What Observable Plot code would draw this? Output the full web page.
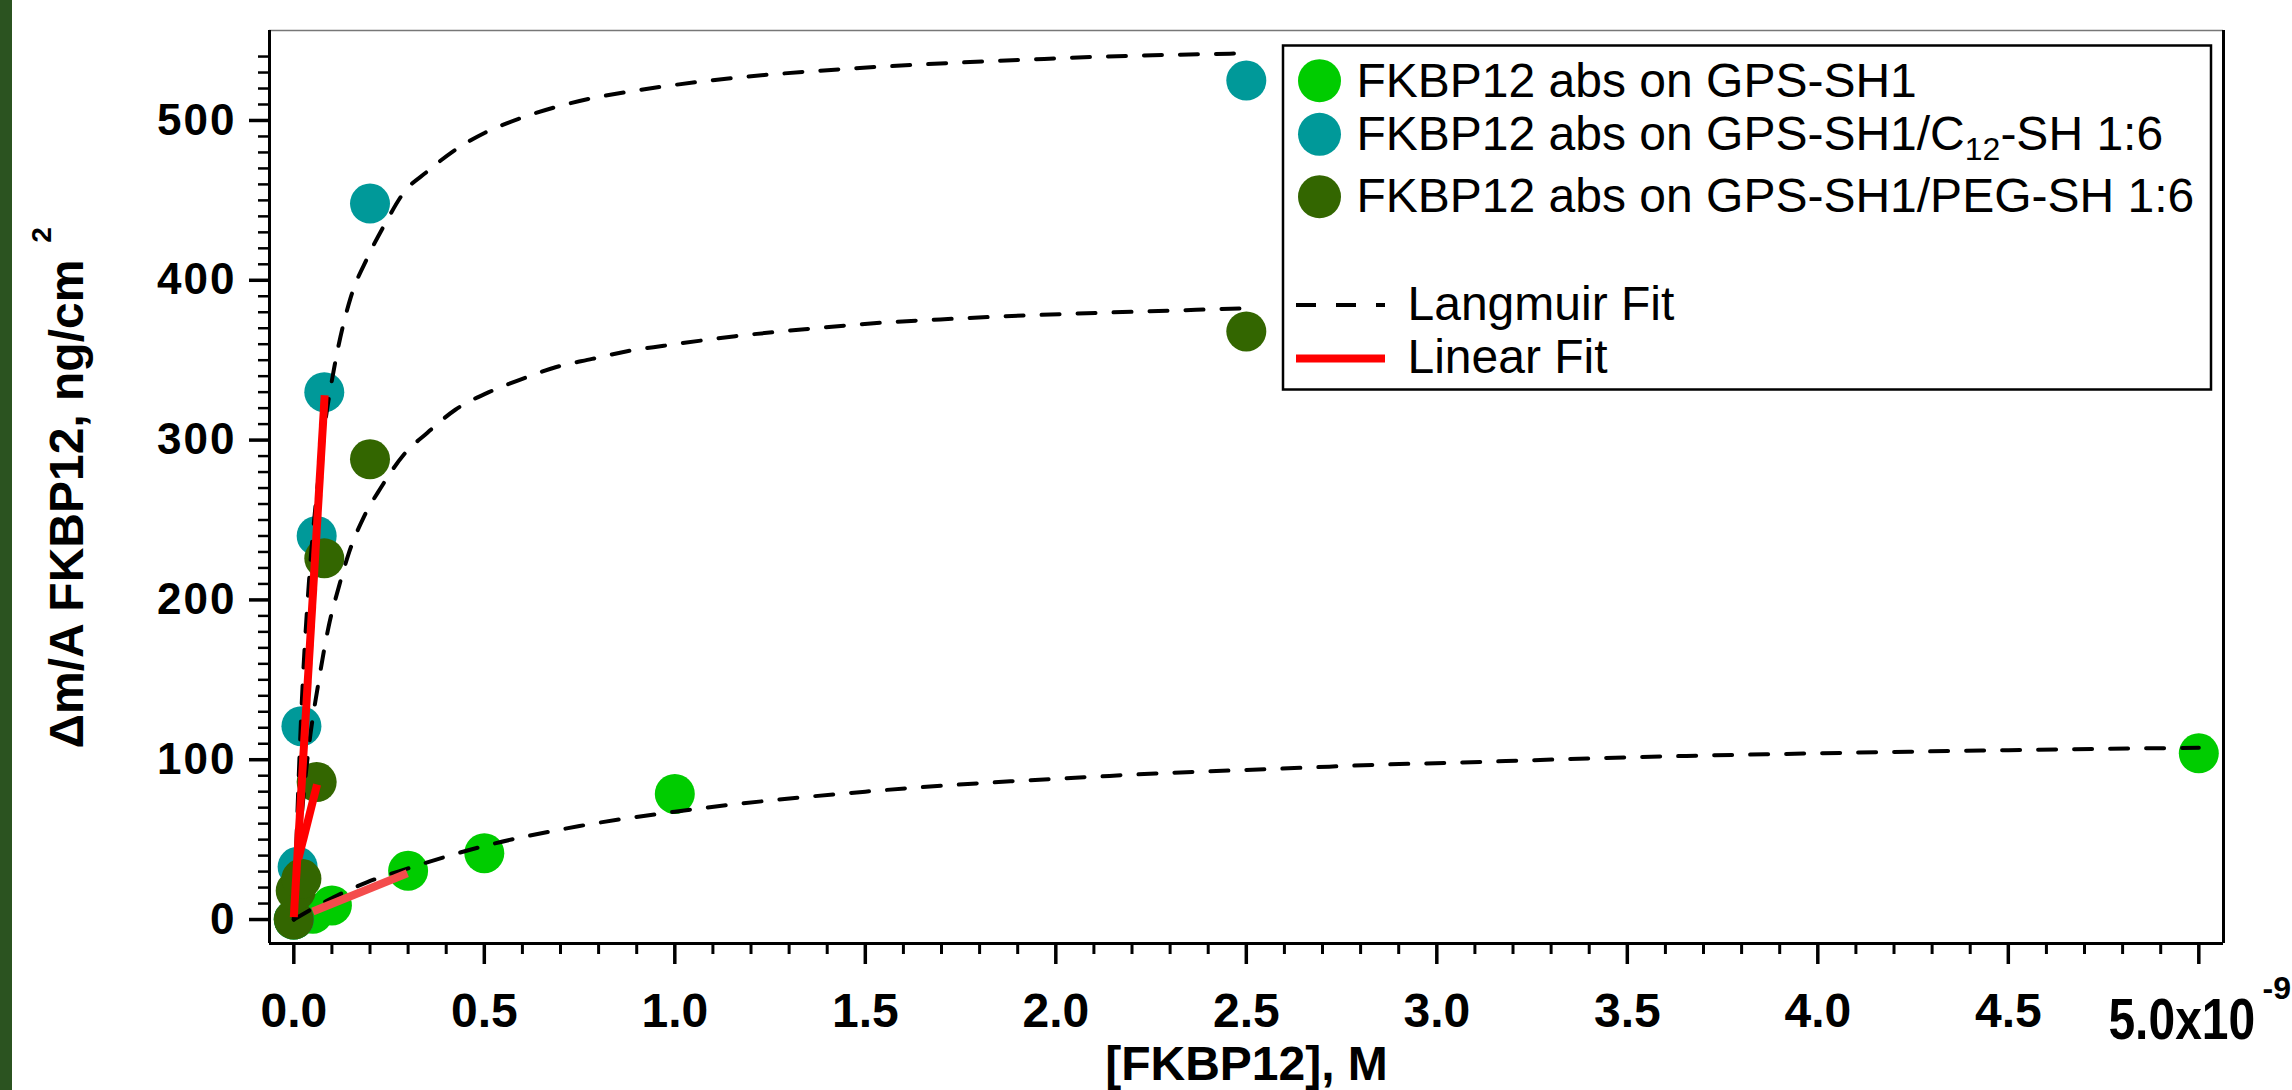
<!DOCTYPE html>
<html><head><meta charset="utf-8">
<script src="https://cdn.jsdelivr.net/npm/d3@7"></script>
<script src="https://cdn.jsdelivr.net/npm/@observablehq/plot@0.6"></script>
<style>
html,body{margin:0;padding:0;background:#fff;}
#wrap{position:relative;width:2292px;height:1090px;overflow:hidden;background:#fff;}
#strip{position:absolute;left:0;top:0;width:12px;height:1090px;background:#2b5320;}
#chart svg{display:block;}
g[aria-label="y-axis tick label"] text{letter-spacing:2px;}
</style></head><body>
<div id="wrap"><div id="chart"></div><div id="strip"></div></div>
<script>
// ---- data (x in units of 1e-9 M, y in ng/cm^2) ----
const seriesNames = ["FKBP12 abs on GPS-SH1", "FKBP12 abs on GPS-SH1/C{12}-SH 1:6", "FKBP12 abs on GPS-SH1/PEG-SH 1:6"];
const seriesColors = ["#00cc00", "#009999", "#336600"];

const concGPS = [0, 0.05, 0.1, 0.3, 0.5, 1.0, 5.0];
const massGPS = [0, 3.6, 8.8, 30.5, 41.5, 78.6, 104];
const concC12 = [0, 0.01, 0.02, 0.06, 0.08, 0.2, 2.5];
const massC12 = [0, 33, 121, 240, 330, 448, 525];
const concPEG = [0, 0.005, 0.02, 0.06, 0.08, 0.2, 2.5];
const massPEG = [0, 18, 25.5, 86, 226, 288, 368];

// Langmuir fit curves
const fitGPSx = [0, 0.088, 0.193, 0.3, 0.5, 0.75, 1.0, 1.5, 1.881, 2.074, 2.262, 2.454, 2.642, 2.835, 3.027, 3.5, 4.0, 4.5, 5.0];
const fitGPSy = [0, 11.9, 23.4, 32, 46, 58.5, 67.5, 80, 86.5, 89, 91.4, 93.2, 94.9, 96.8, 98, 101.5, 104, 106, 107.5];
const fitC12x = [0, 0.02, 0.04, 0.06, 0.08, 0.105, 0.149, 0.193, 0.241, 0.289, 0.35, 0.42, 0.503, 0.59, 0.682, 0.774, 0.866, 0.962, 1.15, 1.343, 1.531, 1.724, 1.916, 2.104, 2.292, 2.5];
const fitC12y = [0, 131, 212, 266, 307, 344, 389, 414, 436, 455, 468, 481, 492.5, 501, 508, 513.5, 517.5, 521, 526.5, 530.5, 533.5, 536, 538, 539.8, 541, 542];
const fitPEGx = [0, 0.02, 0.04, 0.066, 0.092, 0.118, 0.144, 0.184, 0.228, 0.289, 0.35, 0.424, 0.512, 0.6, 0.687, 0.783, 0.875, 0.971, 1.159, 1.352, 1.54, 1.728, 1.92, 2.109, 2.301, 2.5];
const fitPEGy = [0, 63, 109, 150, 184, 208, 229, 252, 270, 291, 304.5, 319, 330, 338.3, 345.6, 350.8, 355.6, 359, 365, 369.6, 373.4, 375.9, 378, 379.6, 381, 382.5];

// Linear fits
const linGPSx = [0.05, 0.298], linGPSy = [5, 29];
const linC12x = [0, 0.081], linC12y = [1.5, 328];
const linPEGx = [0.012, 0.061], linPEGy = [38, 84.5];
const linColors = ["#f44c4c", "#ff0000", "#ff0000"];

// axes
const xDomain = [-0.0638, 5.0648];
const yDomain = [-15.0, 556.3];
const xMajor = [0, 0.5, 1, 1.5, 2, 2.5, 3, 3.5, 4, 4.5, 5];
const xLabelTicks = [0, 0.5, 1, 1.5, 2, 2.5, 3, 3.5, 4, 4.5];
const xLastLabel = [5.0], xLastText = ["5.0x10"], xLastExp = ["-9"];
const xMinor = d3.range(1, 50).map(i => i / 10).filter(v => Math.abs(v * 2 - Math.round(v * 2)) > 1e-9);
const yMajor = [0, 100, 200, 300, 400, 500];
const yMinor = d3.range(1, 55).map(i => i * 10).filter(v => v % 100 !== 0);
const xTitle = ["[FKBP12], M"];
const yTitle = ["\u0394m/A FKBP12, ng/cm"], yTitleSup = ["2"];
const legendLines = ["Langmuir Fit", "Linear Fit"];

const FONT = "'Liberation Sans', Arial, Helvetica, sans-serif";
const rows = (xs, ys) => xs.map((x, i) => ({x, y: ys[i]}));

const dotsData = [rows(concGPS, massGPS), rows(concC12, massC12), rows(concPEG, massPEG)];
const fitsData = [rows(fitGPSx, fitGPSy), rows(fitC12x, fitC12y), rows(fitPEGx, fitPEGy)];
const linData = [rows(linGPSx, linGPSy), rows(linC12x, linC12y), rows(linPEGx, linPEGy)];

const chart = Plot.plot({
  width: 2292, height: 1090,
  marginLeft: 269, marginRight: 69, marginTop: 30, marginBottom: 147,
  x: {domain: xDomain, label: null},
  y: {domain: yDomain, label: null},
  style: {fontFamily: FONT, color: "black", background: "white", overflow: "visible"},
  marks: [
    Plot.ruleY([yDomain[1]], {stroke: "#777", strokeWidth: 1.5}),
    Plot.ruleX(xDomain, {stroke: "black", strokeWidth: 3}),
    Plot.ruleY([yDomain[0]], {stroke: "black", strokeWidth: 3}),
    Plot.axisX({ticks: xMajor, tickSize: 21, strokeWidth: 3.5, fill: null, label: null}),
    Plot.axisX({ticks: xMinor, tickSize: 11, strokeWidth: 3, fill: null, label: null}),
    Plot.axisX({ticks: xLabelTicks, tickSize: 0, tickPadding: 49, fontSize: 48, fontWeight: "bold", tickFormat: d => d.toFixed(1), label: null}),
    Plot.axisY({ticks: yMajor, tickSize: 20, strokeWidth: 3.5, fill: null, label: null}),
    Plot.axisY({ticks: yMinor, tickSize: 11, strokeWidth: 2.5, fill: null, label: null}),
    Plot.axisY({ticks: yMajor, tickSize: 0, tickPadding: 33, fontSize: 44, fontWeight: "bold", label: null}),
    ...dotsData.map((d, i) => Plot.dot(d, {x: "x", y: "y", r: 20, fill: seriesColors[i], stroke: "none"})),
    ...fitsData.map(d => Plot.line(d, {x: "x", y: "y", stroke: "black", strokeWidth: 4, strokeDasharray: "18,18", curve: "monotone-x"})),
    ...linData.map((d, i) => Plot.line(d, {x: "x", y: "y", stroke: linColors[i], strokeWidth: 8, strokeLinecap: "butt"})),
    Plot.text(xLastLabel, {x: d => d, text: (d, i) => xLastText[i], frameAnchor: "bottom", dx: -17, dy: 77, lineAnchor: "middle", fontSize: 48, fontWeight: "bold"}),
    Plot.text(xLastLabel, {x: d => d, text: (d, i) => xLastExp[i], frameAnchor: "bottom", dx: 78, dy: 45, lineAnchor: "middle", fontSize: 32, fontWeight: "bold"}),
    Plot.text(xTitle, {text: d => d, frameAnchor: "bottom", dy: 136, lineAnchor: "bottom", fontSize: 48, fontWeight: "bold"}),
    Plot.text(yTitle, {text: d => d, frameAnchor: "left", rotate: -90, dx: -202, dy: 17, lineAnchor: "middle", textAnchor: "middle", fontSize: 48, fontWeight: "bold"}),
    Plot.text(yTitleSup, {text: d => d, frameAnchor: "left", rotate: -90, dx: -227, dy: -252, lineAnchor: "middle", textAnchor: "middle", fontSize: 28, fontWeight: "bold"})
  ]
});
document.getElementById("chart").appendChild(chart);

const svg = d3.select(chart);
// the reference's "5.0x10" label is drawn a little taller than the other tick labels
svg.selectAll("text").filter(function() { return this.textContent === xLastText[0]; })
  .each(function() {
    const tr = this.getAttribute("transform") || "";
    this.setAttribute("transform", tr + " scale(1,1.18)");
  });

// legend
const lg = svg.append("g").attr("font-family", FONT).attr("font-size", 48).attr("text-anchor", "start");
lg.append("rect").attr("x", 1283).attr("y", 45.5).attr("width", 928).attr("height", 344)
  .attr("fill", "white").attr("stroke", "black").attr("stroke-width", 2.5);
const circleY = [80.7, 134.3, 196.7];
const baseY = [97, 150, 212];
seriesNames.forEach((name, i) => {
  lg.append("circle").attr("cx", 1319.5).attr("cy", circleY[i]).attr("r", 21.5).attr("fill", seriesColors[i]);
  const t = lg.append("text").attr("x", 1356.5).attr("y", baseY[i]).attr("fill", "black").attr("text-anchor", "start");
  const parts = name.split(/\{(\d+)\}/);
  parts.forEach((p, j) => {
    if (j % 2 === 1) {
      t.append("tspan").attr("font-size", 32).attr("dy", 10).text(p);
    } else if (p) {
      const ts = t.append("tspan").text(p);
      if (j > 0) ts.attr("dy", -10);
    }
  });
});
lg.append("line").attr("x1", 1296).attr("x2", 1385).attr("y1", 305).attr("y2", 305)
  .attr("stroke", "black").attr("stroke-width", 4).attr("stroke-dasharray", "20,20");
lg.append("text").attr("x", 1407.5).attr("y", 320).attr("text-anchor", "start").text(legendLines[0]);
lg.append("line").attr("x1", 1296).attr("x2", 1385).attr("y1", 358.5).attr("y2", 358.5)
  .attr("stroke", "#ff0000").attr("stroke-width", 8);
lg.append("text").attr("x", 1407.5).attr("y", 373).attr("text-anchor", "start").text(legendLines[1]);
</script></body></html>
